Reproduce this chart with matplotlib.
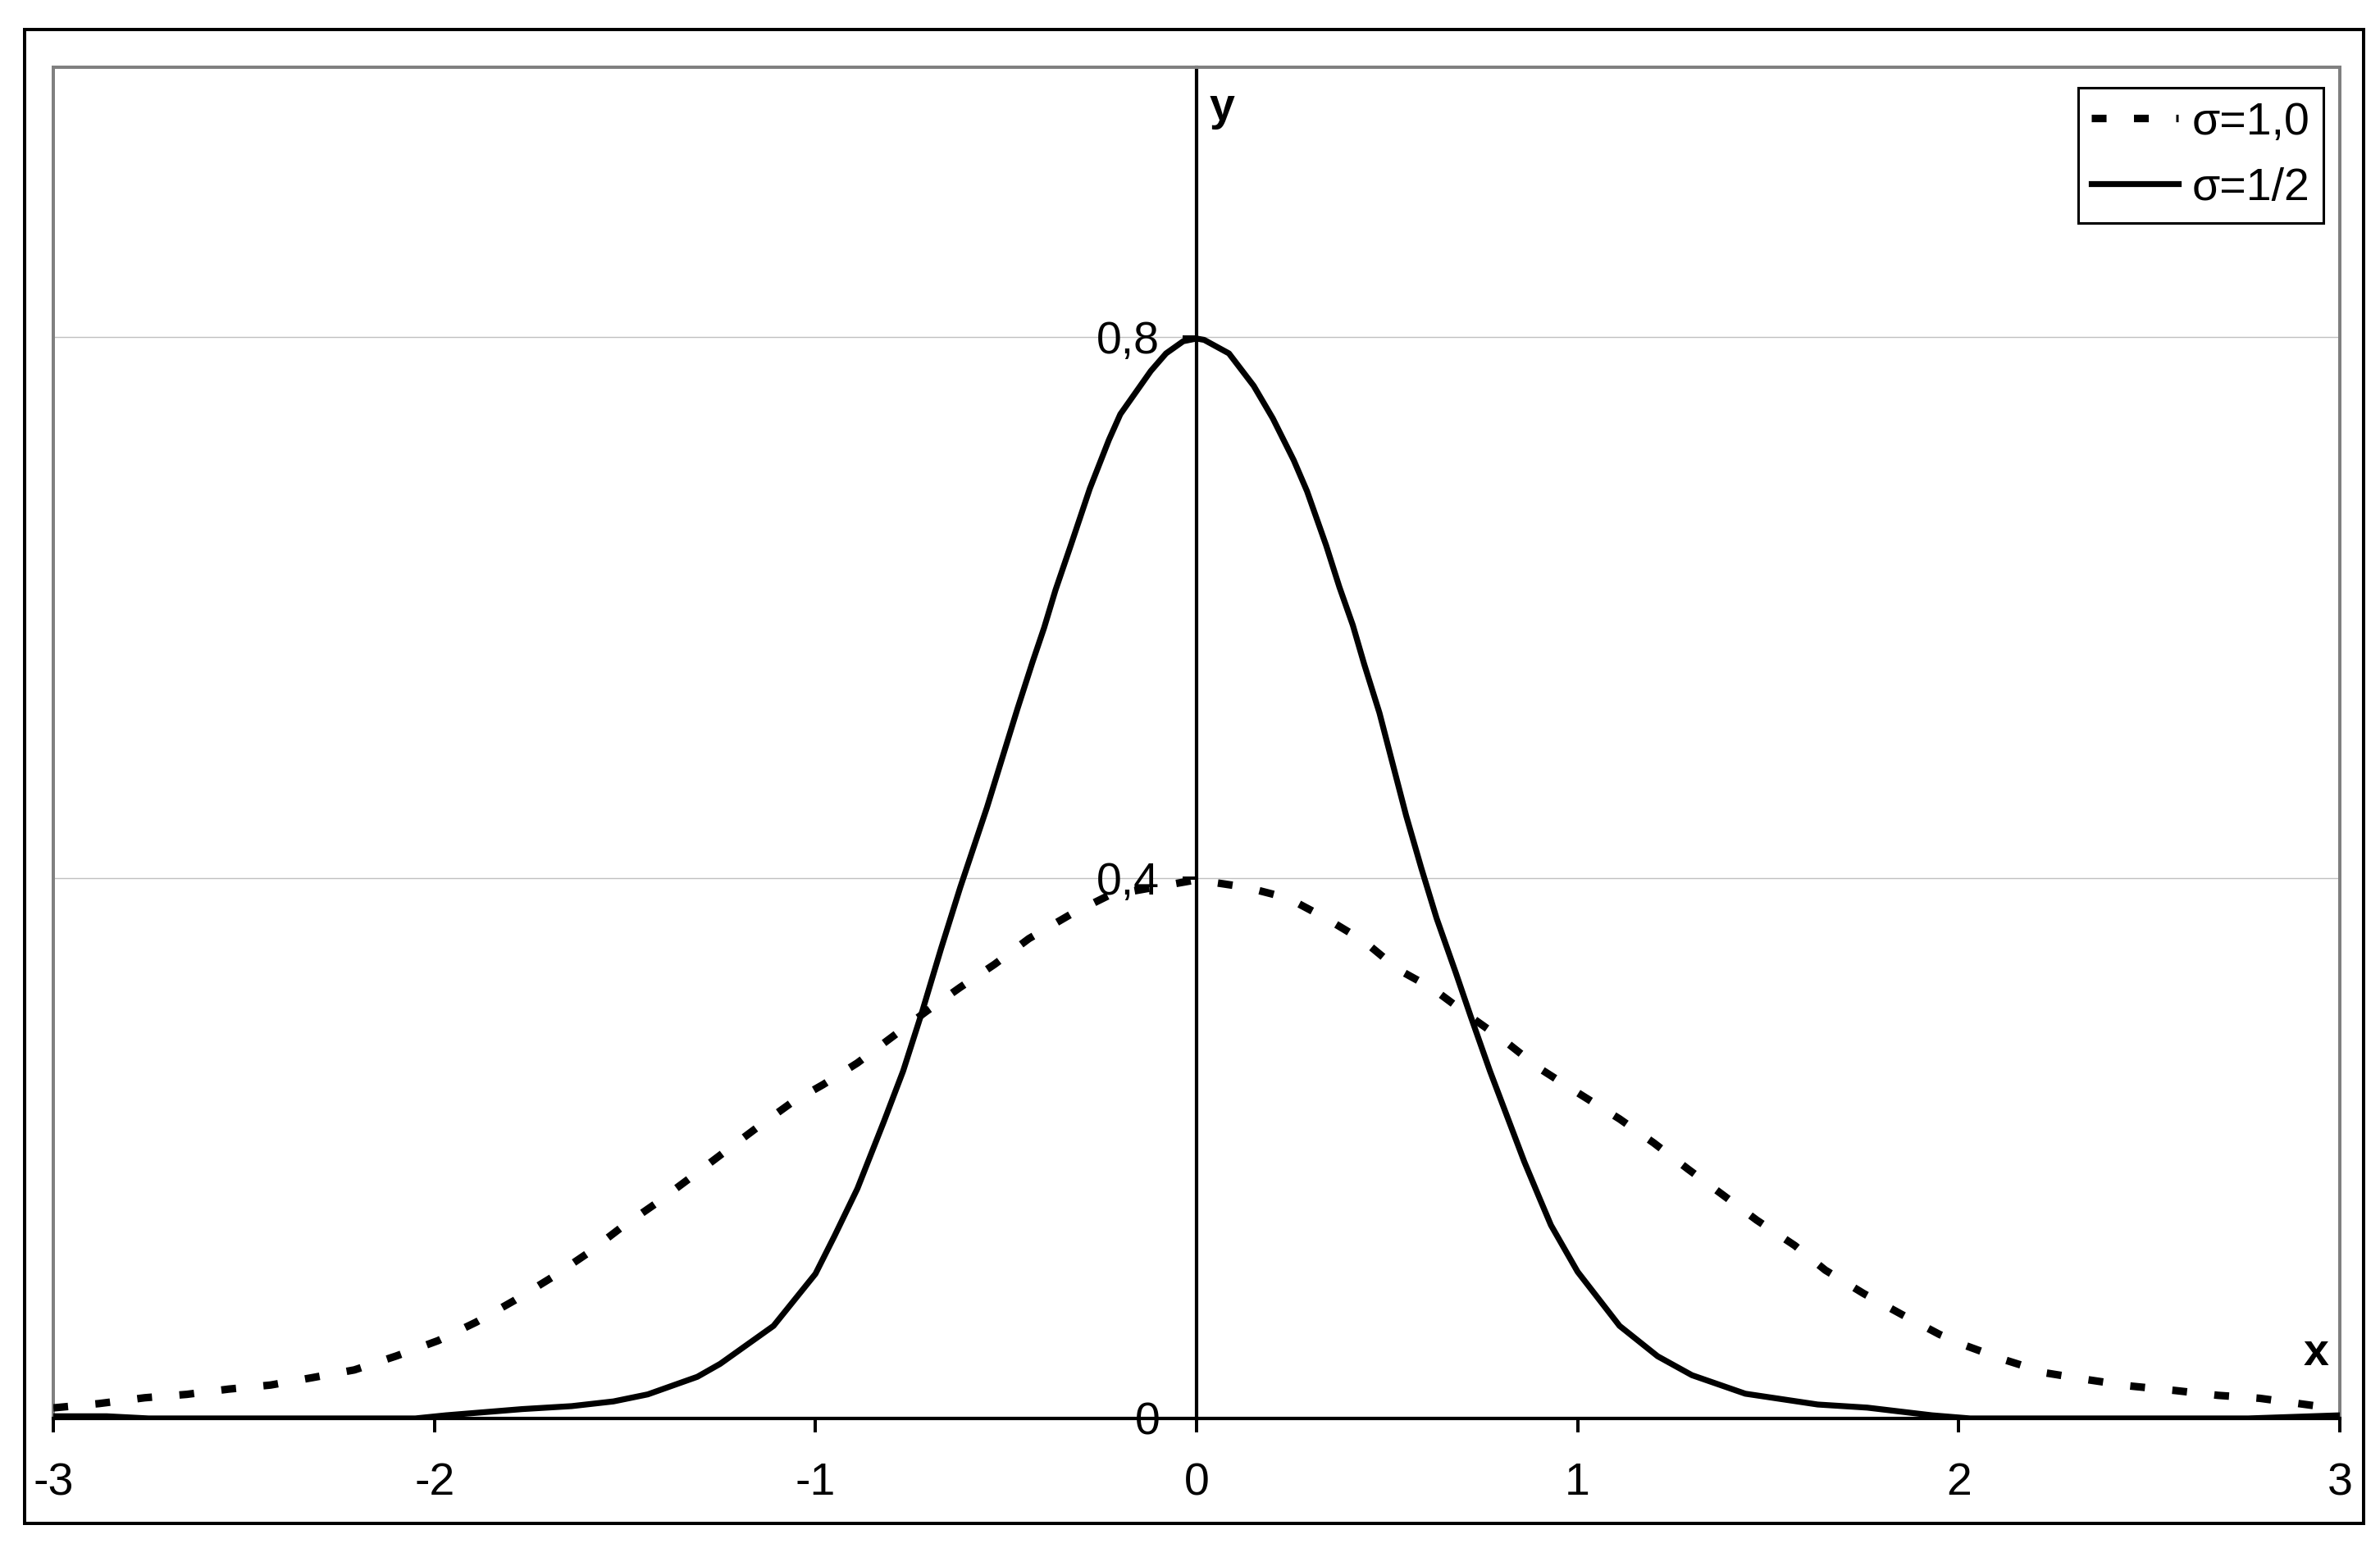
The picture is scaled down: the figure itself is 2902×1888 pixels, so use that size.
import matplotlib
matplotlib.use('Agg')
import matplotlib.pyplot as plt
from matplotlib.patches import Rectangle

plt.rcParams['font.family'] = ['Liberation Sans', 'DejaVu Sans']

# sigma = 1/2 (solid)
x_half = [-3.0, -2.86, -2.75, -2.05, -1.97, -1.77, -1.64, -1.53, -1.44, -1.31,
          -1.25, -1.11, -1.0, -0.95, -0.89, -0.82, -0.77, -0.72, -0.67, -0.62,
          -0.55, -0.47, -0.43, -0.40, -0.37, -0.33, -0.28, -0.23, -0.20, -0.12,
          -0.08, -0.035, 0.0, 0.02, 0.085, 0.15, 0.20, 0.255, 0.29, 0.34,
          0.375, 0.41, 0.44, 0.48, 0.515, 0.55, 0.59, 0.63, 0.68, 0.72,
          0.77, 0.86, 0.90, 0.93, 1.0, 1.11, 1.21, 1.30, 1.44, 1.63,
          1.76, 1.93, 2.03, 2.76, 3.0]
y_half = [0.0016, 0.0016, 0.0, 0.0, 0.0023, 0.0069, 0.0091, 0.0126, 0.0178, 0.0308,
          0.0404, 0.0685, 0.107, 0.135, 0.170, 0.220, 0.257, 0.301, 0.348, 0.393,
          0.452, 0.525, 0.560, 0.585, 0.613, 0.646, 0.688, 0.724, 0.743, 0.775,
          0.788, 0.797, 0.799, 0.798, 0.788, 0.764, 0.740, 0.709, 0.686, 0.646,
          0.615, 0.587, 0.558, 0.522, 0.484, 0.446, 0.407, 0.370, 0.330, 0.297,
          0.257, 0.190, 0.163, 0.143, 0.1085, 0.0685, 0.046, 0.032, 0.0183, 0.0103,
          0.0080, 0.0023, 0.0, 0.0, 0.0023]

# sigma = 1,0 (dashed)
x_one = [-3.0, -2.88, -2.76, -2.65, -2.54, -2.43, -2.32, -2.21, -2.10, -1.99,
         -1.89, -1.79, -1.69, -1.60, -1.51, -1.42, -1.33, -1.24, -1.15, -1.06,
         -0.98, -0.89, -0.80, -0.71, -0.62, -0.53, -0.44, -0.33, -0.23, 0.0,
         0.13, 0.24, 0.34, 0.44, 0.53, 0.62, 0.72, 0.81, 0.90, 1.00,
         1.11, 1.20, 1.29, 1.38, 1.47, 1.57, 1.65, 1.75, 1.85, 1.95,
         2.02, 2.12, 2.23, 2.34, 2.45, 2.57, 2.68, 2.79, 2.90, 3.0]
y_one = [0.0078, 0.0110, 0.0153, 0.0178, 0.0217, 0.0247, 0.0302, 0.0359, 0.0462, 0.0576,
         0.0713, 0.0873, 0.1046, 0.1218, 0.1412, 0.1588, 0.1777, 0.1969, 0.2159, 0.2342,
         0.247, 0.263, 0.282, 0.301, 0.319, 0.336, 0.355, 0.373, 0.387, 0.3985,
         0.393, 0.385, 0.370, 0.353, 0.332, 0.318, 0.297, 0.279, 0.259, 0.241,
         0.2216, 0.2038, 0.1844, 0.1656, 0.1467, 0.1279, 0.1097, 0.0925, 0.0770, 0.0621,
         0.0537, 0.0434, 0.0336, 0.0286, 0.0240, 0.0206, 0.0171, 0.0149, 0.0107, 0.0069]

x_ticks = [-3, -2, -1, 0, 1, 2, 3]
x_labels = ['-3', '-2', '-1', '0', '1', '2', '3']
y_ticks = [0, 0.4, 0.8]
y_labels = ['0', '0,4', '0,8']

fig = plt.figure(figsize=(14.51, 9.44), dpi=200)
ax = fig.add_axes([0.0224, 0.0837, 0.9607, 0.8731])

ax.plot(x_one, y_one, color='black', lw=3.3, dashes=(1.97, 3.65),
        dash_capstyle='butt', label='σ=1,0', zorder=3)
ax.plot(x_half, y_half, color='black', lw=2.6, label='σ=1/2', zorder=3)

ax.set_xlim(-3, 3)
ax.set_ylim(0, 1.0)

# gridlines
for g in [0.4, 0.8]:
    ax.axhline(g, color='#c0c0c0', lw=0.5, zorder=1)

# spines: gray frame, black axes lines
ax.spines['left'].set_position(('data', 0))
ax.spines['left'].set_color('black')
ax.spines['left'].set_linewidth(1.5)
ax.spines['bottom'].set_color('black')
ax.spines['bottom'].set_linewidth(1.5)
for s in ['top', 'right']:
    ax.spines[s].set_color('#808080')
    ax.spines[s].set_linewidth(1.44)
ax.plot([0, 0], [0, 1], transform=ax.transAxes, color='#808080', lw=1.44,
        clip_on=False, zorder=2)

ax.set_xticks(x_ticks)
ax.set_xticklabels(x_labels)
ax.set_yticks(y_ticks)
ax.set_yticklabels(y_labels)
ax.tick_params(axis='both', direction='out', length=6.1, width=1.44,
               labelsize=20, colors='black')
ax.tick_params(axis='x', pad=13)
ax.tick_params(axis='y', pad=10)

ax.text(0.034, 0.961, 'y', fontsize=20, fontweight='bold', ha='left', va='baseline')
ax.text(2.905, 0.0394, 'x', fontsize=20, fontweight='bold', ha='left', va='baseline')

leg = ax.legend(loc='upper right', bbox_to_anchor=(0.9928, 0.9845), borderaxespad=0,
                fontsize=20, frameon=True, fancybox=False, handlelength=1.9,
                handletextpad=0.3, borderpad=0.3, labelspacing=0.5)
leg.get_frame().set_edgecolor('black')
leg.get_frame().set_linewidth(1.1)
leg.get_frame().set_alpha(1)

# outer black border
fig.patches.append(Rectangle((0.01017, 0.01615), 0.98294, 0.96478, transform=fig.transFigure,
                             fill=False, edgecolor='black', lw=1.44))

fig.savefig('out.png', dpi=200)
